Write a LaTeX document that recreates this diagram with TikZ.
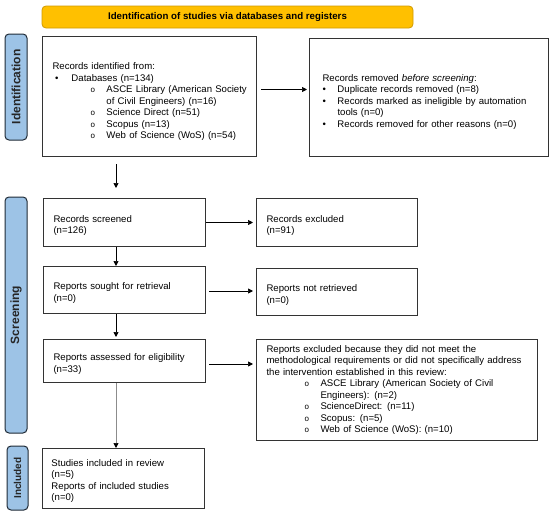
\documentclass[tikz,border=0pt]{standalone}
\usepackage{fontspec}
\setmainfont{Liberation Sans}
\usetikzlibrary{arrows.meta,calc}
\definecolor{bannerfill}{HTML}{FFC000}
\definecolor{bannerline}{HTML}{D09A00}
\definecolor{sidefill}{HTML}{9DC3E6}
\definecolor{sideline}{HTML}{1F2A36}
\definecolor{boxline}{HTML}{333333}
\definecolor{greyarrow}{HTML}{8C8C8C}
\newcommand\subb{\makebox[16pt][l]{\fontsize{8}{8}\selectfont o}}
\newcommand\topb{\makebox[16.5pt][l]{•}}
\newcommand\lift[1]{\rule{0pt}{#1pt}}
\begin{document}
\begin{tikzpicture}[x=1pt,y=-1pt,
  box/.style={draw=boxline, line width=1pt, fill=white, anchor=north west,
    inner xsep=10pt, inner ysep=0pt, align=left,
    font=\fontsize{9.6}{11.5}\selectfont},
  side/.style={draw=sideline, line width=1pt, fill=sidefill, rounded corners=4pt,
    rotate=90, inner sep=0pt, font=\bfseries\fontsize{12}{14}\selectfont, text=black!85},
  banner/.style={draw=bannerline, line width=0.8pt, fill=bannerfill, rounded corners=4pt,
    inner sep=0pt, font=\bfseries\fontsize{9.7}{11.5}\selectfont},
  arr/.style={line width=0.7pt, black, -{Triangle[length=5pt,width=5pt]}}
]
\useasboundingbox (0,0) rectangle (550,514);

% banner and side bars
\node[banner, minimum width=371pt, minimum height=22pt] (ban) at (227.5,17)
  {Identification of studies via databases and registers};
\node[side, minimum width=106pt, minimum height=22pt] (sid) at (16,87) {Identification};
\node[side, minimum width=236pt, minimum height=22pt] (sscr) at (16,315) {Screening};
\node[side, minimum width=64pt, minimum height=21pt, font=\bfseries\fontsize{10}{12}\selectfont] (sinc) at (17.5,478) {Included};

% identification boxes
\node[box, minimum width=214pt, minimum height=120pt, text width=194pt] (ident) at (42,36) {%
\lift{17}Records identified from:\\
\hspace*{2.5pt}\topb Databases (n=134)\\
\hspace*{38pt}\subb\makebox[140pt][s]{ASCE Library (American Society}\\
\hspace*{54pt}of Civil Engineers) (n=16)\\
\hspace*{38pt}\subb Science Direct (n=51)\\
\hspace*{38pt}\subb Scopus (n=13)\\
\hspace*{38pt}\subb Web of Science (WoS) (n=54)};

\node[box, inner xsep=9pt, minimum width=239pt, minimum height=118pt, text width=221pt] (removed) at (309,38) {%
\lift{15}\hspace*{4pt}Records removed \textit{before screening}:\\
\hspace*{4pt}\makebox[15pt][l]{•}Duplicate records removed (n=8)\\
\hspace*{4pt}\makebox[15pt][l]{•}\makebox[200pt][s]{Records marked as ineligible by automation}\\
\hspace*{19pt}tools (n=0)\\
\hspace*{4pt}\makebox[15pt][l]{•}Records removed for other reasons (n=0)};

% screening boxes
\node[box, minimum width=162pt, minimum height=48pt, text width=142pt] (screened) at (43,198)
  {\lift{13}Records screened\\(n=126)};
\node[box, minimum width=161pt, minimum height=48pt, text width=141pt] (excluded) at (256,198)
  {\lift{13}Records excluded\\(n=91)};
\node[box, minimum width=162pt, minimum height=47pt, text width=142pt] (sought) at (43,266)
  {\lift{13}Reports sought for retrieval\\(n=0)};
\node[box, minimum width=161pt, minimum height=47pt, text width=141pt] (notretr) at (256,268)
  {\lift{13}Reports not retrieved\\(n=0)};
\node[box, minimum width=162pt, minimum height=43pt, text width=142pt] (assessed) at (43,339)
  {\lift{13}Reports assessed for eligibility\\(n=33)};
\node[box, minimum width=281pt, minimum height=101pt, text width=261pt] (repexcl) at (256,339) {%
Reports excluded because they did not meet the\\
methodological requirements or did not specifically address\\
the intervention established in this review:\\
\hspace*{38pt}\subb\makebox[207pt][s]{ASCE Library (American Society of Civil}\\
\hspace*{54pt}Engineers): (n=2)\\
\hspace*{38pt}\subb ScienceDirect: (n=11)\\
\hspace*{38pt}\subb Scopus: (n=5)\\
\hspace*{38pt}\subb Web of Science (WoS): (n=10)};

% included box
\node[box, inner xsep=9pt, minimum width=162pt, minimum height=60pt, text width=144pt] (studies) at (42,448)
  {\lift{12}Studies included in review\\(n=5)\\Reports of included studies\\(n=0)};

% connectors
\coordinate (ax) at (116,0);
\coordinate (ay1) at (0,89.5);
\coordinate (ay2) at (0,291);
\coordinate (ay3) at (0,364);
\draw[arr, shorten <=7pt, shorten >=10pt] (ident.south -| ax) -- (screened.north -| ax);
\draw[arr] (screened.south -| ax) -- (sought.north -| ax);
\draw[arr, shorten >=2pt] (sought.south -| ax) -- (assessed.north -| ax);
\draw[arr, greyarrow, -{Triangle[length=5pt,width=5pt,black]}] (assessed.south -| ax) -- (studies.north -| ax);
\draw[arr, shorten <=4pt, shorten >=2pt] (ident.east |- ay1) -- (removed.west |- ay1);
\draw[arr, shorten >=3pt] (screened.east) -- (excluded.west);
\draw[arr, shorten <=3pt, shorten >=3pt] (sought.east |- ay2) -- (notretr.west |- ay2);
\draw[arr, shorten <=3pt, shorten >=3pt] (assessed.east |- ay3) -- (repexcl.west |- ay3);
\end{tikzpicture}
\end{document}
